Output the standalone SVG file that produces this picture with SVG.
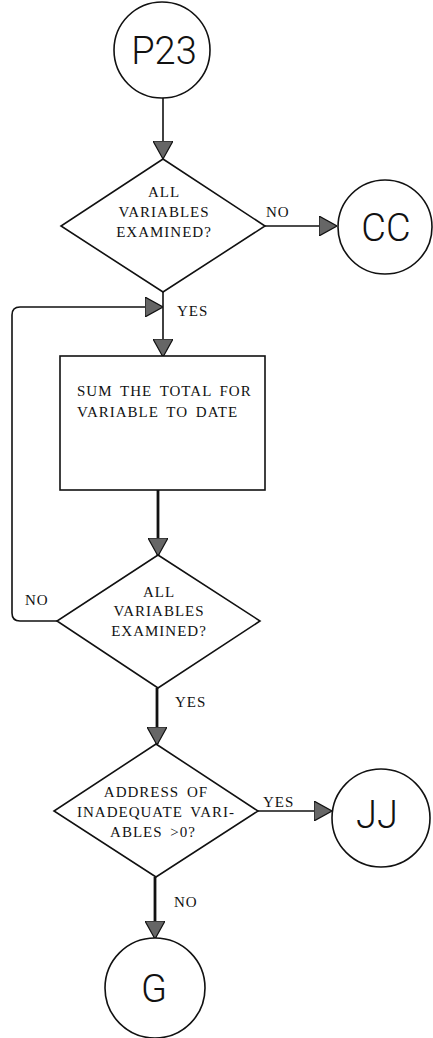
<svg xmlns="http://www.w3.org/2000/svg" width="433" height="1038" viewBox="0 0 433 1038">
<style>
.shape{fill:#fff;stroke:#111;stroke-width:1.6}
.conn{fill:none;stroke:#111;stroke-width:1.6}
.thick{stroke-width:2.8}
.t{font-family:"Liberation Serif","Times New Roman",serif;font-size:15px;letter-spacing:1px;word-spacing:3px;fill:#111}
.c{text-anchor:middle}
.big{font-family:Roboto,"Liberation Sans",Arial,sans-serif;font-weight:300;font-size:38px;fill:#111;text-anchor:middle}
</style>
<defs>
<marker id="ah" viewBox="0 0 18 20" refX="17" refY="10" markerWidth="18" markerHeight="20" markerUnits="userSpaceOnUse" orient="auto">
<path d="M0,0 L18,10 L0,20 Z" fill="#666" stroke="#111" stroke-width="1.2"/>
</marker>
</defs>
<rect width="433" height="1038" fill="#fff"/>
<g id="connectors">
<path class="conn" d="M163,98 L163,158" marker-end="url(#ah)"/>
<path class="conn" d="M265,226 L336,226" marker-end="url(#ah)"/>
<path class="conn" d="M163,292 L163,356" marker-end="url(#ah)"/>
<path class="conn" d="M57,621 L20,621 Q12,621 12,613 L12,315 Q12,307 20,307 L162,307" marker-end="url(#ah)"/>
<path class="conn thick" d="M158,490 L158,555" marker-end="url(#ah)"/>
<path class="conn thick" d="M157,688 L157,744" marker-end="url(#ah)"/>
<path class="conn" d="M258,811 L331,811" marker-end="url(#ah)"/>
<path class="conn thick" d="M155,877 L155,938" marker-end="url(#ah)"/>
<text class="t" x="266" y="217">NO</text>
<text class="t" x="177" y="316">YES</text>
<text class="t" x="25" y="605">NO</text>
<text class="t" x="175" y="707">YES</text>
<text class="t" x="263" y="807">YES</text>
<text class="t" x="174" y="907">NO</text>
</g>
<g id="p23">
<circle class="shape" cx="162" cy="50" r="48"/>
<text class="big" x="164" y="64">P23</text>
</g>
<g id="decision1">
<polygon class="shape" points="163,159 265,226 163,292 61,226"/>
<text class="t c" x="164" y="197">ALL</text>
<text class="t c" x="164" y="217">VARIABLES</text>
<text class="t c" x="164" y="237">EXAMINED?</text>
</g>
<g id="cc">
<circle class="shape" cx="385" cy="227" r="47"/>
<text class="big" x="386" y="241">CC</text>
</g>
<g id="sum">
<rect class="shape" x="60" y="356" width="205" height="134"/>
<text class="t" x="77" y="396">SUM THE TOTAL FOR</text>
<text class="t" x="77" y="417">VARIABLE TO DATE</text>
</g>
<g id="decision2">
<polygon class="shape" points="158,555 260,621 158,688 57,621"/>
<text class="t c" x="159" y="597">ALL</text>
<text class="t c" x="159" y="616">VARIABLES</text>
<text class="t c" x="159" y="636">EXAMINED?</text>
</g>
<g id="decision3">
<polygon class="shape" points="156,744 258,811 156,877 54,811"/>
<text class="t c" x="156" y="797">ADDRESS OF</text>
<text class="t c" x="156" y="817">INADEQUATE VARI-</text>
<text class="t c" x="153" y="837">ABLES &gt;0?</text>
</g>
<g id="jj">
<circle class="shape" cx="381" cy="818" r="49"/>
<text class="big" x="377" y="828">JJ</text>
</g>
<g id="g">
<circle class="shape" cx="155" cy="988" r="50"/>
<text class="big" x="154" y="1002">G</text>
</g>
</svg>
